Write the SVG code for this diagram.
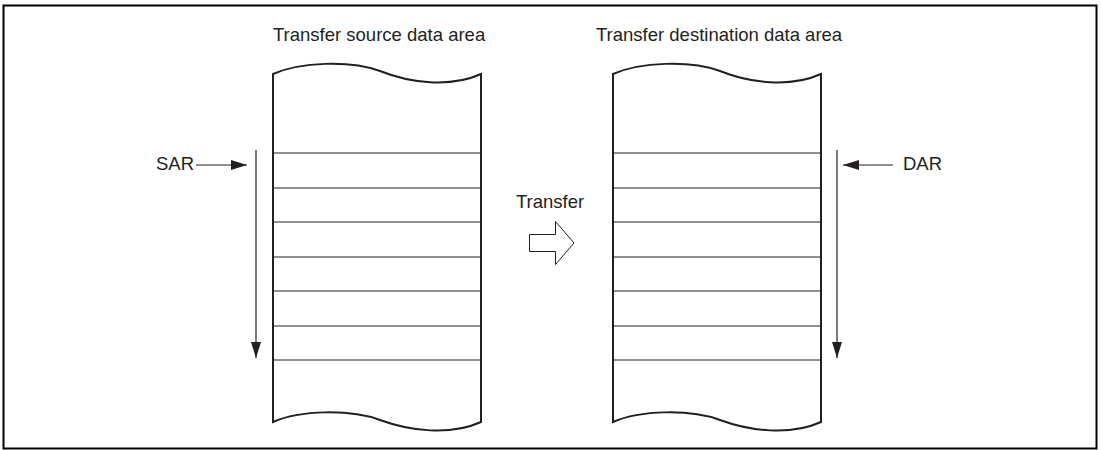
<svg xmlns="http://www.w3.org/2000/svg" width="1101" height="450" viewBox="0 0 1101 450">
<style>
text{font-family:"Liberation Sans",Arial,sans-serif;font-size:18.5px;fill:#231f20}
.col{fill:#fff;stroke:#231f20;stroke-width:2}
.row{stroke:#231f20;stroke-width:1;fill:none}
.ln{stroke:#231f20;stroke-width:1.2;fill:none}
</style>
<defs>
<marker id="ahv" viewBox="0 0 16 10" refX="16" refY="5" markerWidth="16" markerHeight="10" markerUnits="userSpaceOnUse" orient="auto">
<path d="M0,0 L16,5 L0,10 Z" fill="#231f20"/>
</marker>
</defs>
<rect x="3.5" y="5.5" width="1093" height="443" fill="#fff" stroke="#000" stroke-width="2"/>
<g id="source">
<text x="273" y="41">Transfer source data area</text>
<path class="col" d="M273,74 C300,62 350,60 380,71 C410,83 450,88 481,74 L481,422 C450,436 410,431 380,420 C350,409 300,410 273,422 Z"/>
<g class="row">
<line x1="273" y1="153" x2="481" y2="153"/>
<line x1="273" y1="188" x2="481" y2="188"/>
<line x1="273" y1="222" x2="481" y2="222"/>
<line x1="273" y1="257" x2="481" y2="257"/>
<line x1="273" y1="291" x2="481" y2="291"/>
<line x1="273" y1="326" x2="481" y2="326"/>
<line x1="273" y1="360" x2="481" y2="360"/>
</g>
</g>
<g id="destination">
<text x="596" y="41">Transfer destination data area</text>
<path class="col" d="M613,74 C640,62 690,60 720,71 C750,83 790,88 821,74 L821,422 C790,436 750,431 720,420 C690,409 640,410 613,422 Z"/>
<g class="row">
<line x1="613" y1="153" x2="821" y2="153"/>
<line x1="613" y1="188" x2="821" y2="188"/>
<line x1="613" y1="222" x2="821" y2="222"/>
<line x1="613" y1="257" x2="821" y2="257"/>
<line x1="613" y1="291" x2="821" y2="291"/>
<line x1="613" y1="326" x2="821" y2="326"/>
<line x1="613" y1="360" x2="821" y2="360"/>
</g>
</g>
<g id="sar">
<text x="156" y="170">SAR</text>
</g>
<g id="dar">
<text x="903" y="170">DAR</text>
</g>
<g id="transfer">
<text x="516" y="208">Transfer</text>
<path d="M529.5,234.5 L555.5,234.5 L555.5,221.5 L574,243 L555.5,264.5 L555.5,251.5 L529.5,251.5 Z" fill="#fff" stroke="#231f20" stroke-width="1"/>
</g>
<g id="connectors">
<line class="ln" x1="196" y1="165" x2="247" y2="165" marker-end="url(#ahv)"/>
<line class="ln" x1="893" y1="165" x2="843" y2="165" marker-end="url(#ahv)"/>
<line class="ln" x1="256" y1="150" x2="256" y2="358" marker-end="url(#ahv)"/>
<line class="ln" x1="837" y1="150" x2="837" y2="358" marker-end="url(#ahv)"/>
</g>
</svg>
